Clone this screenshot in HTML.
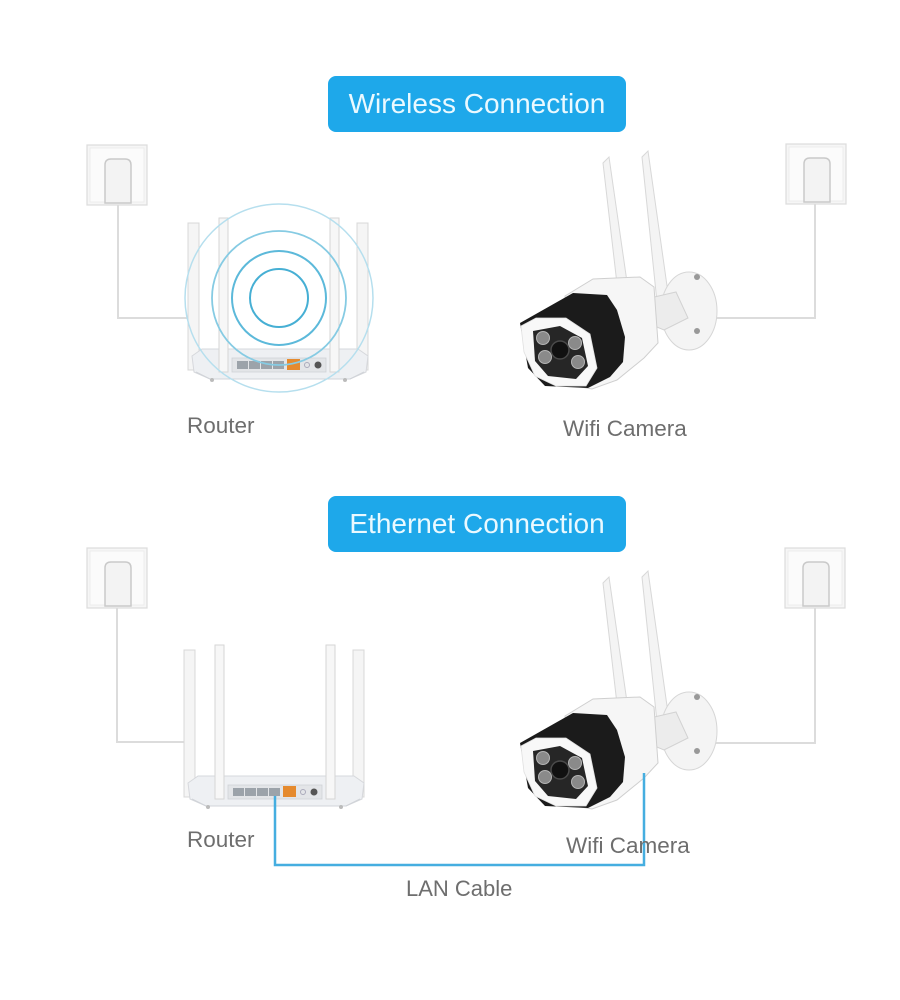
<!DOCTYPE html>
<html><head><meta charset="utf-8">
<style>
html,body{margin:0;padding:0;background:#fff;}
svg{display:block;}
text{font-family:"Liberation Sans","DejaVu Sans",sans-serif;}
</style></head>
<body>
<svg width="900" height="1000" viewBox="0 0 900 1000" xmlns="http://www.w3.org/2000/svg">
<defs>
  <g id="outlet">
    <rect x="0" y="0" width="60" height="60" fill="#f6f6f6" stroke="#dcdcdc" stroke-width="1.2"/>
    <rect x="3" y="3" width="54" height="54" fill="#fbfbfb" stroke="#ececec" stroke-width="1"/>
    <path d="M18 58 L18 20 Q18 14 24 14 L38 14 Q44 14 44 20 L44 58 Z" fill="#f3f3f3" stroke="#c9c9c9" stroke-width="1.5"/>
  </g>
  <g id="router">
    <!-- outer antennas -->
    <rect x="188" y="223" width="11" height="147" fill="#f5f5f5" stroke="#d8d8d8" stroke-width="1"/>
    <rect x="357" y="223" width="11" height="147" fill="#f5f5f5" stroke="#d8d8d8" stroke-width="1"/>
    <!-- body -->
    <path d="M192 356 L202 349 L358 349 L368 356 L366 372 L350 379 L210 379 L194 372 Z" fill="#eef0f3" stroke="#d6d8dc" stroke-width="1"/>
    <path d="M196 372 L210 379 L350 379 L364 372" fill="none" stroke="#d0d3d8" stroke-width="1"/>
    <rect x="232" y="358" width="94" height="14" fill="#e3e5e8" stroke="#cfd2d6" stroke-width="0.8"/>
    <rect x="237" y="361" width="11" height="8" fill="#9ca3aa"/>
    <rect x="249" y="361" width="11" height="8" fill="#9ca3aa"/>
    <rect x="261" y="361" width="11" height="8" fill="#9ca3aa"/>
    <rect x="273" y="361" width="11" height="8" fill="#9ca3aa"/>
    <rect x="287" y="359" width="13" height="11" fill="#e58a2e"/>
    <circle cx="307" cy="365" r="2.5" fill="none" stroke="#aab" stroke-width="1"/>
    <circle cx="318" cy="365" r="3.5" fill="#555"/>
    <circle cx="212" cy="380" r="2" fill="#bbb"/>
    <circle cx="345" cy="380" r="2" fill="#bbb"/>
    <!-- inner antennas -->
    <rect x="219" y="218" width="9" height="154" fill="#f7f7f7" stroke="#d6d6d6" stroke-width="1"/>
    <rect x="330" y="218" width="9" height="154" fill="#f7f7f7" stroke="#d6d6d6" stroke-width="1"/>
  </g>
  <g id="camera">
    <!-- antennas -->
    <polygon points="603,163 609,157 627,282 617,284" fill="#f4f4f4" stroke="#d8d8d8" stroke-width="1"/>
    <polygon points="642,157 648,151 669,300 657,302" fill="#f4f4f4" stroke="#d8d8d8" stroke-width="1"/>
    <!-- mount -->
    <ellipse cx="689" cy="311" rx="28" ry="39" fill="#f4f4f4" stroke="#d6d6d6" stroke-width="1"/>
    <circle cx="697" cy="277" r="3" fill="#999"/>
    <circle cx="697" cy="331" r="3" fill="#999"/>
    <polygon points="650,298 676,292 688,318 664,330 652,325" fill="#ececec" stroke="#d2d2d2" stroke-width="1"/>
    <!-- body housing -->
    <polygon points="565,296 593,279 640,277 654,287 658,343 644,358 617,380 592,389 575,386" fill="#f6f6f6" stroke="#cfcfcf" stroke-width="1"/>
    <!-- black shroud -->
    <polygon points="520,323 573,293 607,295 617,310 625,337 623,362 610,377 588,388 545,386 528,368" fill="#1b1b1b"/>
    <!-- white bezel -->
    <polygon points="521,326 536,318 566,318 590,334 597,368 586,386 556,386 535,376 524,352" fill="#f8f8f8" stroke="#e0e0e0" stroke-width="0.8"/>
    <polygon points="533,331 560,326 582,338 588,366 576,379 548,376 535,361" fill="#262626"/>
    <circle cx="543" cy="338" r="6.5" fill="#8a8a8a" stroke="#b5b5b5" stroke-width="1"/>
    <circle cx="575" cy="343" r="6.5" fill="#8a8a8a" stroke="#b5b5b5" stroke-width="1"/>
    <circle cx="545" cy="357" r="6.5" fill="#8a8a8a" stroke="#b5b5b5" stroke-width="1"/>
    <circle cx="578" cy="362" r="6.5" fill="#8a8a8a" stroke="#b5b5b5" stroke-width="1"/>
    <circle cx="560" cy="350" r="9" fill="#111" stroke="#4a4a4a" stroke-width="1.5"/>
  </g>
</defs>

<!-- ===== Wireless section ===== -->
<rect x="328" y="76" width="298" height="56" rx="8" fill="#1ea8ea"/>
<text x="477" y="113" font-size="28" fill="#eaf9ff" text-anchor="middle">Wireless Connection</text>

<!-- cables -->
<polyline points="118,205 118,318 189,318" fill="none" stroke="#dcdcdc" stroke-width="2"/>
<polyline points="815,203 815,318 716,318" fill="none" stroke="#dcdcdc" stroke-width="2"/>

<use href="#outlet" x="87" y="145"/>
<use href="#outlet" x="786" y="144"/>

<use href="#router"/>
<!-- wifi circles -->
<circle cx="279" cy="298" r="94" fill="none" stroke="#b6dfee" stroke-width="1.5"/>
<circle cx="279" cy="298" r="67" fill="none" stroke="#86cbe3" stroke-width="1.8"/>
<circle cx="279" cy="298" r="47" fill="none" stroke="#5cb9da" stroke-width="2"/>
<circle cx="279" cy="298" r="29" fill="none" stroke="#46afd4" stroke-width="2"/>

<use href="#camera"/>

<text x="187" y="433" font-size="22.5" fill="#6e6e6e">Router</text>
<text x="563" y="436" font-size="22.5" fill="#6e6e6e">Wifi Camera</text>

<!-- ===== Ethernet section ===== -->
<rect x="328" y="496" width="298" height="56" rx="8" fill="#1ea8ea"/>
<text x="477" y="533" font-size="28" fill="#eaf9ff" text-anchor="middle">Ethernet Connection</text>

<polyline points="117,608 117,742 186,742" fill="none" stroke="#dcdcdc" stroke-width="2"/>
<polyline points="815,608 815,743 712,743" fill="none" stroke="#dcdcdc" stroke-width="2"/>

<use href="#outlet" x="87" y="548"/>
<use href="#outlet" x="785" y="548"/>

<use href="#router" transform="translate(-4,427)"/>
<use href="#camera" transform="translate(0,420)"/>

<!-- LAN cable -->
<polyline points="275,796 275,865 644,865 644,773" fill="none" stroke="#45aee0" stroke-width="2.5"/>

<text x="187" y="847" font-size="22.5" fill="#6e6e6e">Router</text>
<text x="566" y="853" font-size="22.5" fill="#6e6e6e">Wifi Camera</text>
<text x="406" y="896" font-size="22" fill="#6e6e6e">LAN Cable</text>
</svg>
</body></html>
